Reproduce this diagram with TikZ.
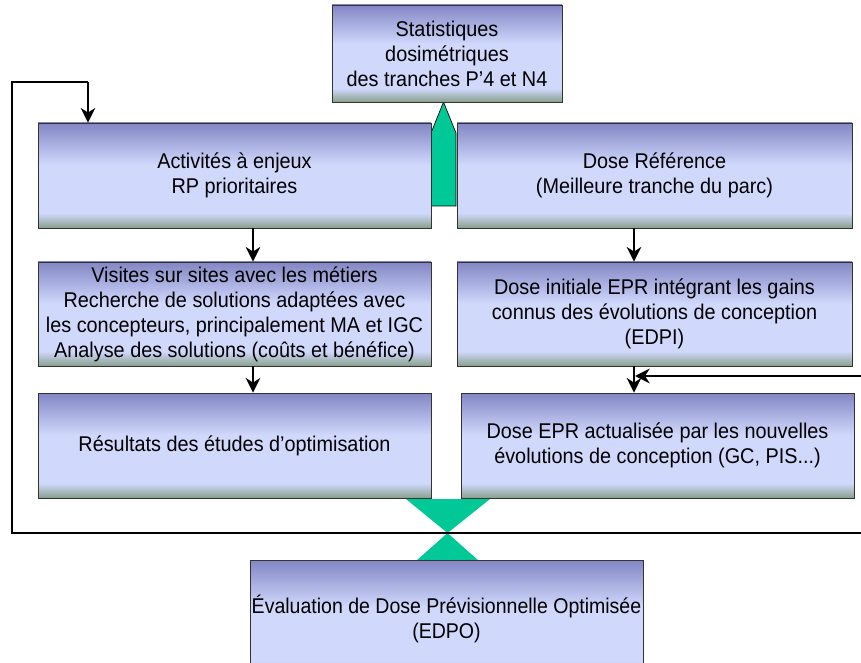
\documentclass[tikz,border=0pt]{standalone}
\usepackage{fontspec}
\newfontfamily\boxfont[FakeStretch=0.93]{Liberation Sans}
\newfontfamily\boxfontn[FakeStretch=0.915]{Liberation Sans}
\usetikzlibrary{arrows.meta}
\definecolor{btop}{HTML}{8286C4}
\definecolor{blight}{HTML}{D0D8FC}
\definecolor{bbot}{HTML}{88A08C}
\definecolor{dgreen}{HTML}{00C896}
\pgfdeclareverticalshading{boxshade}{100bp}{color(0bp)=(bbot); color(25bp)=(bbot); color(32bp)=(blight); color(55bp)=(blight); color(75bp)=(btop); color(100bp)=(btop)}
\tikzset{
  box/.style={draw=black!80, line width=0.6pt, shading=boxshade, align=center, inner sep=0pt,
    font=\boxfont\fontsize{16}{18.75}\selectfont},
  arr/.style={line width=1.5pt, -{Stealth[length=11pt,width=11pt,inset=3.5pt]}},
  loop/.style={line width=2pt},
  greenshape/.style={fill=dgreen, draw=black, line width=0.5pt}
}
\begin{document}
\begin{tikzpicture}[x=0.75pt,y=-0.75pt]
\clip (0,0) rectangle (861,663);
\fill[white] (0,0) rectangle (861,663);
% green shapes
\draw[greenshape] (431,206) -- (431,133) -- (443.5,102) -- (456,133) -- (456,206) -- cycle;
\fill[dgreen] (406,499) -- (490,499) -- (447.5,533) -- cycle;
\fill[dgreen] (447.5,533) -- (479,561) -- (416,561) -- cycle;
% boxes
\node[box, minimum width=172.5pt, minimum height=72.75pt] (stat) at (447,53.5)
  {Statistiques\\dosimétriques\\ des tranches P’4 et N4};
\node[box, minimum width=294.75pt, minimum height=78.75pt] (act) at (234.5,175.5)
  {Activités à enjeux\\RP prioritaires};
\node[box, minimum width=296.25pt, minimum height=78.75pt] (ref) at (654.5,175.5)
  {Dose Référence\\(Meilleure tranche du parc)};
\node[box, minimum width=294.75pt, minimum height=78pt] (vis) at (234.5,314)
  {\raisebox{-2pt}{\parbox{294pt}{\centering Visites sur sites avec les métiers\\Recherche de solutions adaptées avec\\les concepteurs, principalement MA et IGC\\Analyse des solutions (coûts et bénéfice)}}};
\node[box, minimum width=296.25pt, minimum height=78pt] (init) at (654.5,314)
  {Dose initiale EPR intégrant les gains\\connus des évolutions de conception\\(EDPI)};
\node[box, minimum width=294.75pt, minimum height=78.75pt] (res) at (234.5,445.5)
  {Résultats des études d’optimisation};
\node[box, minimum width=294.75pt, minimum height=78.75pt] (upd) at (657.5,445.5)
  {Dose EPR actualisée par les nouvelles\\évolutions de conception (GC, PIS...)};
\node[box, minimum width=294.75pt, minimum height=88.5pt,
  font=\boxfontn\fontsize{16}{18.75}\selectfont] (edpo) at (446.5,619)
  {Évaluation de Dose Prévisionnelle Optimisée\\(EDPO)};
% coordinates
\coordinate (rA) at (870,533);
\coordinate (rB) at (870,376);
\coordinate (lA) at (12,533);
\coordinate (lB) at (12,82);
\coordinate (lC) at (88,82);
% connectors
\draw[arr] (act.south -| 253,0) -- (vis.north -| 253,0);
\draw[arr] (vis.south -| 253,0) -- (res.north -| 253,0);
\draw[arr] (ref.south -| 634,0) -- (init.north -| 634,0);
\draw[arr] (init.south -| 634,0) -- (upd.north -| 634,0);
\draw[loop] (rA) -- (lA) -- (lB) -- (lC);
\draw[arr] (lC) -- (act.north -| lC);
\draw[arr] (rB) -- (rB -| 635,0);
\end{tikzpicture}
\end{document}
